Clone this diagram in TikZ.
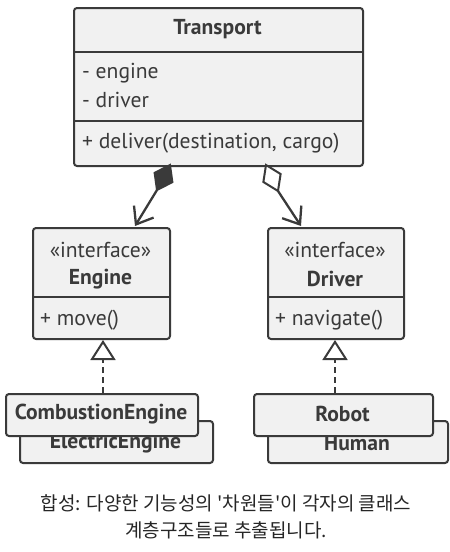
\documentclass[tikz,border=0pt]{standalone}
\usepackage{fontspec}
\setmainfont{PT Sans}
\newfontfamily\krfont{Noto Sans CJK KR}
\usetikzlibrary{arrows.meta,calc}
\definecolor{boxfill}{HTML}{F1F1F1}
\definecolor{ink}{HTML}{3A3A3A}
\begin{document}
\begin{tikzpicture}[x=1pt,y=-1pt,
  umlbox/.style={draw=ink, fill=boxfill, line width=2pt, rounded corners=3pt, anchor=north west, inner sep=0pt},
  divider/.style={draw=ink, line width=2pt},
  ttl/.style={font=\fontsize{21.6}{24}\selectfont\bfseries, text=ink},
  txt/.style={font=\fontsize{21.6}{24}\selectfont, text=ink},
  conn/.style={draw=ink, line width=2.3pt},
  diam/.style={draw=ink, line width=2pt, line join=miter},
  barb/.style={-{Straight Barb[length=15pt,width=23pt,line width=2.3pt]}},
  every node/.style={inner sep=0pt}]
\useasboundingbox (0,0) rectangle (450,552);
% Transport
\node[umlbox, minimum width=289pt, minimum height=158pt] (transport) at (73,7) {};
\draw[divider] (73,52) -- (362,52);
\draw[divider] (73,121) -- (362,121);
\node[ttl] (tname) at (217.5,29) {Transport};
\node[txt, anchor=west] (tattr1) at (82,73) {- engine};
\node[txt, anchor=west] (tattr2) at (82,100) {- driver};
\node[txt, anchor=west] (tmeth) at (82,143) {+ deliver(destination, cargo)};
% Engine
\node[umlbox, minimum width=137pt, minimum height=111pt] (engine) at (32,227) {};
\draw[divider] (32,297) -- (169,297);
\node[txt] (eint) at (100.5,250) {«interface»};
\node[ttl] (ename) at (100.5,279) {Engine};
\node[txt, anchor=west] (emeth) at (40,320) {+ move()};
% Driver
\node[umlbox, minimum width=136pt, minimum height=111pt] (driver) at (267,227) {};
\draw[divider] (267,297) -- (403,297);
\node[txt] (dint) at (335,250) {«interface»};
\node[ttl] (dname) at (335,279) {Driver};
\node[txt, anchor=west] (dmeth) at (275,320) {+ navigate()};
% Engine implementations
\node[umlbox, minimum width=193pt, minimum height=42pt] (electric) at (19,420) {};
\node[ttl] (elname) at (115.5,443) {ElectricEngine};
\node[umlbox, minimum width=192pt, minimum height=42pt] (combustion) at (5,393) {};
\node[ttl] (coname) at (101,414) {CombustionEngine};
% Driver implementations
\node[umlbox, minimum width=180pt, minimum height=42pt] (human) at (267,420) {};
\node[ttl] (huname) at (357,443) {Human};
\node[umlbox, minimum width=179pt, minimum height=42pt] (robot) at (253,393) {};
\node[ttl] (roname) at (342.5,414) {Robot};
% composition
\coordinate (compS) at (170,165);
\coordinate (compB) at (157,190);
\coordinate (compE) at (135,226);
\coordinate (compM) at ($(compS)!0.5!(compB)$);
\coordinate (compL) at ($(compM)!10pt!90:(compB)$);
\coordinate (compR) at ($(compM)!10pt!-90:(compB)$);
\draw[conn, barb] (compB) -- (compE);
\draw[diam, fill=ink] (compS) -- (compL) -- (compB) -- (compR) -- cycle;
% aggregation
\coordinate (aggS) at (266,165);
\coordinate (aggB) at (278,191);
\coordinate (aggE) at (301,226);
\coordinate (aggM) at ($(aggS)!0.5!(aggB)$);
\coordinate (aggL) at ($(aggM)!9.5pt!90:(aggB)$);
\coordinate (aggR) at ($(aggM)!9.5pt!-90:(aggB)$);
\draw[conn, barb] (aggB) -- (aggE);
\draw[diam, fill=white] (aggS) -- (aggL) -- (aggB) -- (aggR) -- cycle;
% realization
\coordinate (eimpl) at (103,393);
\coordinate (eiface) at (103,340);
\coordinate (dimpl) at (335,393);
\coordinate (diface) at (335,340);
\draw[conn, dash pattern=on 6pt off 4pt, -{Triangle[length=20pt,width=25pt,fill=white,line width=2pt]}] (eimpl) -- (eiface);
\draw[conn, dash pattern=on 6pt off 4pt, -{Triangle[length=20pt,width=25pt,fill=white,line width=2pt]}] (dimpl) -- (diface);
% caption
\node[font=\krfont\fontsize{19}{22}\selectfont, text=black!85] (cap1) at (226,503) {합성: 다양한 기능성의 '차원들'이 각자의 클래스};
\node[font=\krfont\fontsize{19}{22}\selectfont, text=black!85] (cap2) at (226,530) {계층구조들로 추출됩니다.};
\end{tikzpicture}
\end{document}
